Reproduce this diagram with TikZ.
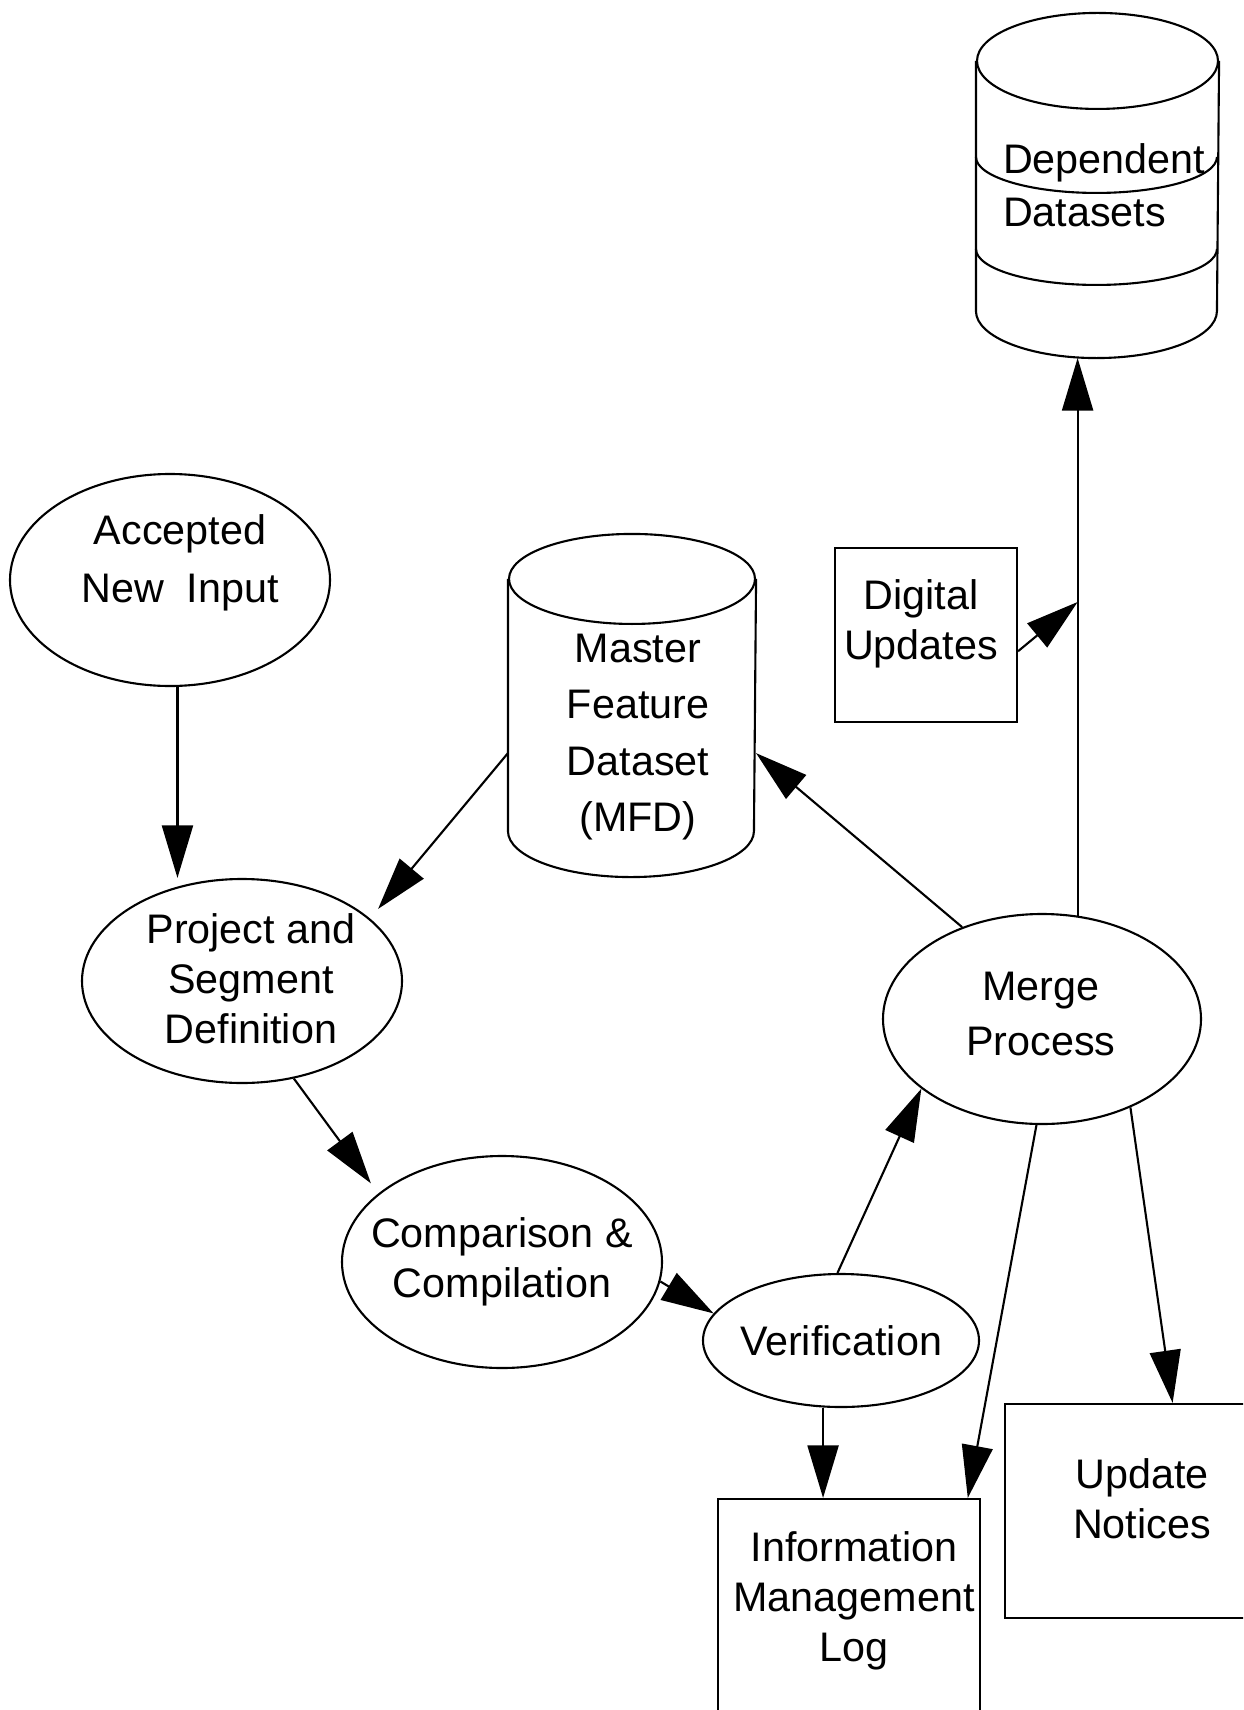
\documentclass[tikz,border=0pt]{standalone}
\usepackage{fontspec}
\setmainfont{Liberation Sans}
\usetikzlibrary{positioning,arrows.meta,shapes.geometric,calc}

\begin{document}
\begin{tikzpicture}[x=0.2mm, y=-0.2mm, line width=1.2pt,
  font=\fontsize{23.5}{28.5}\selectfont,
  proc/.style={draw, ellipse, inner xsep=-10mm, inner ysep=0pt, align=center},
  box/.style={draw, rectangle, inner sep=0pt},
  store/.style={rectangle, inner sep=0pt},
  txt/.style={inner sep=0pt, align=center},
  arr/.style={-{Triangle[length=10.5mm, width=6.2mm]}}]
\useasboundingbox[fill=white] (0,0) rectangle (1243,1710);
\clip (0,0) rectangle (1243,1710);
% process steps
\node[proc, minimum width=64mm, minimum height=42.4mm] (ani) at (170,580) {};
\node[txt] (anit) at (180,563) {Accepted\\[4.5pt]New~~Input};
\node[proc, minimum width=64mm, minimum height=40.8mm] (psd) at (242,981) {};
\node[txt] (psdt) at (251,979) {Project and\\Segment\\Definition};
\node[proc, minimum width=64mm, minimum height=42.4mm] (cmp) at (502,1262) {Comparison \&\\Compilation};
\node[proc, minimum width=55.2mm, minimum height=26.6mm] (ver) at (841,1340.5) {Verification};
\node[proc, minimum width=63.6mm, minimum height=42mm] (mrg) at (1042,1019) {};
\node[txt] (mrgt) at (1041,1014) {Merge\\[2.5pt]Process};
% master feature dataset
\node[store, minimum width=49.2mm, minimum height=68.2mm] (mfd) at (632,705.5) {};
\draw ($(mfd.north west)+(0,45)$) -- ($(mfd.south west)+(0,-46)$)
  arc[start angle=180, end angle=0, x radius=123, y radius=46] -- ($(mfd.north east)+(0,45)$);
\draw ($(mfd.north)+(0,45)$) ellipse [x radius=123, y radius=45];
\node[txt] (mfdt) at (638,737) {Master\\[3.5pt]Feature\\[3.5pt]Dataset\\[3.5pt](MFD)};
% dependent datasets
\node[store, minimum width=48.2mm, minimum height=68.6mm] (dd) at (1097.5,185.5) {};
\draw ($(dd.north west)+(0,48)$) -- ($(dd.south west)+(0,-47)$)
  arc[start angle=180, end angle=0, x radius=120.5, y radius=47] -- ($(dd.north east)+(0,48)$);
\draw ($(dd.north)+(0,48)$) ellipse [x radius=120.5, y radius=48];
\draw ($(dd.north west)+(0,144)$) arc[start angle=180, end angle=0, x radius=120.5, y radius=36];
\draw ($(dd.north west)+(0,236)$) arc[start angle=180, end angle=0, x radius=120.5, y radius=36];
\node[txt, anchor=west, align=left] (ddt) at (1002,185) {Dependent\\[1.5pt]Datasets};
% outputs
\node[box, minimum width=36.4mm, minimum height=34.8mm] (du) at (926,635) {};
\node[txt] (dut) at (921,624) {Digital\\Updates};
\node[box, minimum width=52.4mm, minimum height=56.2mm] (iml) at (849,1639.5) {};
\node[txt] (imlt) at (854,1601) {Information\\Management\\Log};
\node[box, minimum width=53mm, minimum height=42.8mm] (un) at (1137.5,1511) {};
\node[txt] (unt) at (1142,1499) {Update\\Notices};
% flow
\draw[arr] (ani.-86) -- (ani.-86 |- psd.north);
\draw[arr, shorten >=2.5mm] (mfd.201) -- (psd.26);
\draw[arr, shorten >=2.5mm] (psd.-62) -- (cmp.151);
\draw[arr] (cmp.-7) -- (ver.168);
\draw[arr] (ver.93) -- (mrg.210);
\draw[arr] (mrg.131) -- (mfd.-21);
\draw[arr] (mrg.71) -- (mrg.71 |- dd.south);
\coordinate (tap) at (mrg.71 |- 0,602);
\draw[arr] (du.-10) -- (tap);
\draw[arr] (ver.255) -- (ver.255 |- iml.north);
\draw[arr] (mrg.267) -- (iml.50.5);
\draw[arr] (mrg.-45) -- (un.72);
\end{tikzpicture}
\end{document}
